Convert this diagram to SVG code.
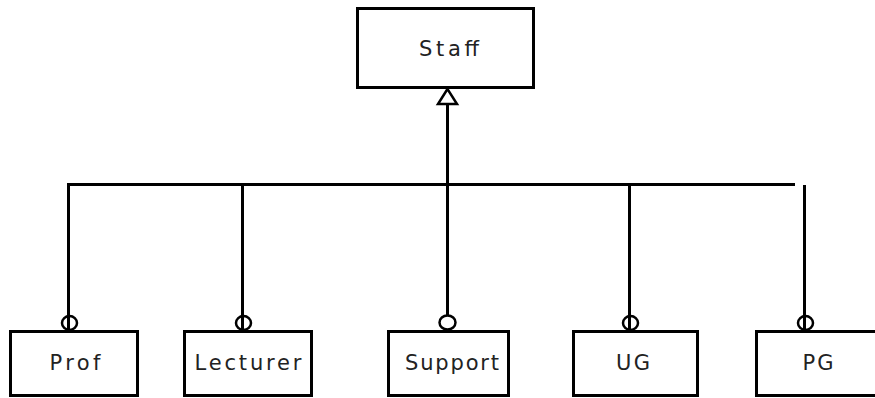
<svg xmlns="http://www.w3.org/2000/svg" width="875" height="398" viewBox="0 0 875 398">
  <style>
    .box { fill: #ffffff; stroke: #000000; stroke-width: 3; }
    .lbl { font-family: "DejaVu Sans", "Liberation Sans", sans-serif; font-size: 21px; fill: #222222; text-anchor: middle; }
    .wire { fill: none; stroke: #000000; stroke-width: 3; }
    .ring { fill: #ffffff; stroke: #000000; stroke-width: 2.5; }
    .head { fill: #ffffff; stroke: #000000; stroke-width: 2.5; stroke-linejoin: miter; }
  </style>
  <rect width="875" height="398" fill="#ffffff"/>

  <!-- generalisation tree: bus line, drops and end symbols -->
  <g id="connectors">
    <line class="wire" x1="447.5" y1="104" x2="447.5" y2="316"/>
    <line class="wire" x1="67" y1="184.5" x2="795" y2="184.5"/>
    <line class="wire" x1="68.5" y1="184" x2="68.5" y2="331"/>
    <line class="wire" x1="242.5" y1="184" x2="242.5" y2="331"/>
    <line class="wire" x1="629.5" y1="184" x2="629.5" y2="331"/>
    <line class="wire" x1="804.5" y1="185" x2="804.5" y2="331"/>
    <polygon class="head" points="447.5,89 438,104 457,104"/>
    <ellipse class="ring" cx="69.5" cy="323" rx="7.5" ry="7"/>
    <line class="wire" x1="68.5" y1="315" x2="68.5" y2="331"/>
    <ellipse class="ring" cx="243.5" cy="323" rx="7.5" ry="7"/>
    <line class="wire" x1="242.5" y1="315" x2="242.5" y2="331"/>
    <ellipse class="ring" cx="447.5" cy="322.5" rx="8" ry="7"/>
    <ellipse class="ring" cx="630.5" cy="323" rx="7.5" ry="7"/>
    <line class="wire" x1="629.5" y1="315" x2="629.5" y2="331"/>
    <ellipse class="ring" cx="805.5" cy="323" rx="7.5" ry="7"/>
    <line class="wire" x1="804.5" y1="315" x2="804.5" y2="331"/>
  </g>

  <g id="staff">
    <rect class="box" x="357.5" y="8.5" width="176" height="79"/>
    <text class="lbl" x="449" y="56" textLength="60" lengthAdjust="spacing">Staff</text>
  </g>

  <g id="prof">
    <rect class="box" x="10.5" y="331.5" width="127" height="64"/>
    <text class="lbl" x="75" y="370" textLength="51" lengthAdjust="spacing">Prof</text>
  </g>

  <g id="lecturer">
    <rect class="box" x="184.5" y="331.5" width="127" height="64"/>
    <text class="lbl" x="248" y="370" textLength="107" lengthAdjust="spacing">Lecturer</text>
  </g>

  <g id="support">
    <rect class="box" x="388.5" y="331.5" width="120" height="64"/>
    <text class="lbl" x="452" y="370" textLength="94" lengthAdjust="spacing">Support</text>
  </g>

  <g id="ug">
    <rect class="box" x="573.5" y="331.5" width="124" height="64"/>
    <text class="lbl" x="633" y="370" textLength="34" lengthAdjust="spacing">UG</text>
  </g>

  <g id="pg">
    <rect class="box" x="756.5" y="331.5" width="126" height="64"/>
    <text class="lbl" x="818" y="370" textLength="31" lengthAdjust="spacing">PG</text>
  </g>
</svg>
